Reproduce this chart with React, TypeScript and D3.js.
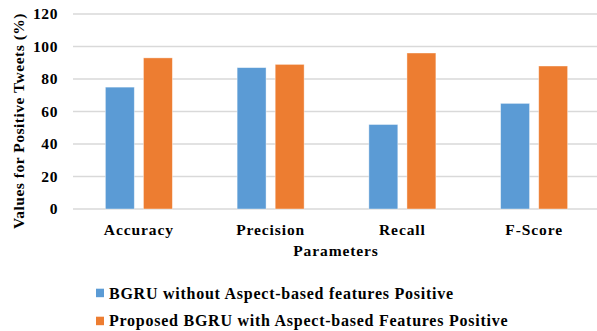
import React from "react";
import * as d3 from "d3";

const categories = ["Accuracy", "Precision", "Recall", "F-Score"];
const seriesNames = [
  "BGRU without Aspect-based features Positive",
  "Proposed BGRU with Aspect-based Features Positive",
];
const blueValues = [75, 87, 52, 65];
const orangeValues = [93, 89, 96, 88];
const yTicks = [0, 20, 40, 60, 80, 100, 120];
const colors = ["#5B9BD5", "#ED7D31"];

const W = 597;
const H = 331;
const FONT = "Liberation Serif";

export default function App() {
  const x = d3.scaleBand<string>().domain(categories).range([73, 600]).paddingInner(0).paddingOuter(0);
  const y = d3.scaleLinear().domain([0, 120]).range([209, 14]);
  const inner = d3.scaleBand<number>().domain([0, 1]).range([0, 67]).paddingInner(0.24);
  const series = [blueValues, orangeValues];
  const groupOffset = (x.bandwidth() - 67) / 2;

  const txt = (
    s: string,
    tx: number,
    ty: number,
    size: number,
    anchor: string,
    ls: number,
    key?: string,
    rot = 0
  ) => (
    <text
      key={key}
      transform={`translate(${tx},${ty}) rotate(${rot})`}
      style={{ fontFamily: FONT, fontWeight: "bold", fontSize: size, letterSpacing: ls }}
      textAnchor={anchor}
      fill="#000"
    >
      {s}
    </text>
  );

  return (
    <svg width={W} height={H} style={{ position: "absolute", left: 0, top: 0, background: "#fff" }}>
      {yTicks.map((t) => (
        <line key={"g" + t} x1={73} x2={W} y1={y(t)} y2={y(t)} stroke="#D9D9D9" strokeWidth={1.3} />
      ))}
      {yTicks.map((t) => txt(String(t), 58, y(t) + 5, 15.5, "end", 0.6, "t" + t))}
      {series.map((vals, si) =>
        vals.map((v, i) => (
          <rect
            key={`b${si}-${i}`}
            x={(x(categories[i]) as number) + groupOffset + (inner(si) as number)}
            y={y(v)}
            width={inner.bandwidth()}
            height={y(0) - y(v)}
            fill={colors[si]}
            stroke="#ffffff"
            strokeOpacity={0.5}
            strokeWidth={0.8}
          />
        ))
      )}
      {categories.map((c) => txt(c, (x(c) as number) + x.bandwidth() / 2, 234.5, 15.5, "middle", 0.9, "c" + c))}
      {txt("Parameters", 336, 255.5, 15.5, "middle", 0.9, "xt")}
      {txt("Values for Positive Tweets (%)", 24, 121, 15.5, "middle", 0.5, "yt", -90)}
      {seriesNames.map((n, i) => (
        <g key={"l" + i}>
          <rect x={96} y={288.7 + i * 28} width={8} height={8.5} fill={colors[i]} />
          {txt(n, 109, 299.3 + i * 26.8, 16, "start", 0.75)}
        </g>
      ))}
    </svg>
  );
}
